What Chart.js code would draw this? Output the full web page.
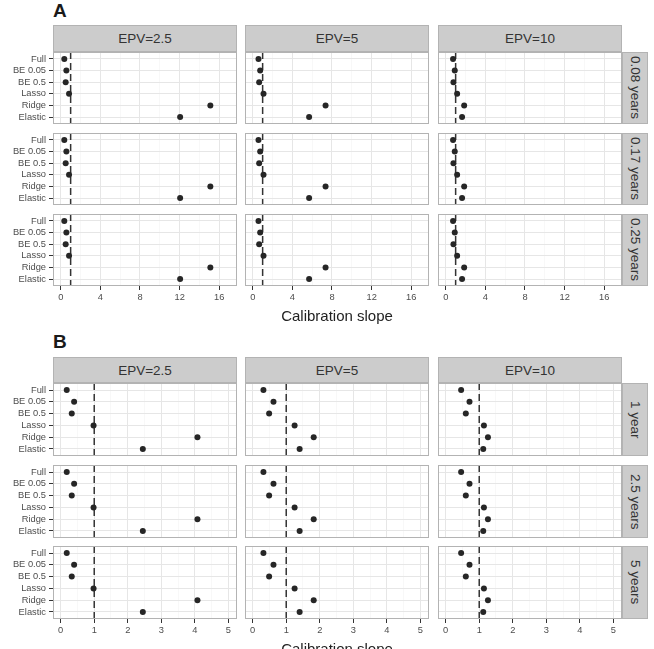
<!DOCTYPE html>
<html>
<head>
<meta charset="utf-8">
<script src="https://cdn.jsdelivr.net/npm/chart.js@4.4.1/dist/chart.umd.min.js"></script>
<style>
  body { margin: 0; background: #fff; overflow: hidden; font-family: "Liberation Sans", Arial, sans-serif; }
  #page { position: relative; width: 654px; height: 649px; overflow: hidden; }
  canvas { position: absolute; }
  .strip { position: absolute; box-sizing: border-box; background: #cccccc; border: 1px solid #b3b3b3;
           color: #333; font-size: 13.5px; display: flex; align-items: center; justify-content: center; }
  .side { writing-mode: vertical-rl; }
  .tag { position: absolute; font-weight: bold; font-size: 19px; line-height: 19px; color: #1a1a1a; }
</style>
</head>
<body>
<div id="page"></div>
<script>
// categories
const methods = ['Full', 'BE 0.05', 'BE 0.5', 'Lasso', 'Ridge', 'Elastic'];
const epvLabels = ['EPV=2.5', 'EPV=5', 'EPV=10'];
const horizonsA = ['0.08 years', '0.17 years', '0.25 years'];
const horizonsB = ['1 year', '2.5 years', '5 years'];

// calibration slopes (same in every horizon row)
const slopeA_epv25 = [0.36, 0.57, 0.50, 0.84, 15.1, 12.05];
const slopeA_epv5 = [0.58, 0.75, 0.65, 1.09, 7.35, 5.69];
const slopeA_epv10 = [0.74, 0.91, 0.78, 1.15, 1.86, 1.65];
const slopeB_epv25 = [0.18, 0.40, 0.33, 0.98, 4.08, 2.45];
const slopeB_epv5 = [0.32, 0.62, 0.49, 1.25, 1.82, 1.40];
const slopeB_epv10 = [0.46, 0.71, 0.60, 1.14, 1.26, 1.12];
const refSlope = 1;

// x axis ticks (minor + major) and labelled ones
const ticksA = [0, 2, 4, 6, 8, 10, 12, 14, 16];
const majorA = [0, 4, 8, 12, 16];
const ticksB = [0, 0.5, 1, 1.5, 2, 2.5, 3, 3.5, 4, 4.5, 5];
const majorB = [0, 1, 2, 3, 4, 5];

Chart.defaults.font.family = '"Liberation Sans", Arial, sans-serif';
Chart.defaults.animation = false;

const page = document.getElementById('page');
const colLeft = [53, 245, 438];
const panelW = 184;
const yMin = -0.6, yMax = 5.6;

const panelBorder = {
    id: 'panelBorder',
    afterDraw(chart) {
        const a = chart.chartArea;
        const ctx = chart.ctx;
        ctx.save();
        ctx.strokeStyle = '#b3b3b3';
        ctx.lineWidth = 1;
        ctx.strokeRect(a.left + 0.5, a.top + 0.5, a.right - a.left - 1, a.bottom - a.top - 1);
        ctx.restore();
    }
};

function addDiv(cls, text, x, y, w, h) {
    let d = document.createElement('div');
    d.className = cls;
    d.textContent = text;
    d.style.left = x + 'px';
    d.style.top = y + 'px';
    if (w) d.style.width = w + 'px';
    if (h) d.style.height = h + 'px';
    page.appendChild(d);
    return d;
}

function noPad(s) {
    s.paddingTop = 0;
    s.paddingBottom = 0;
    s.paddingLeft = 0;
    s.paddingRight = 0;
}

function makeFacet(cfg, row, col, values) {
    const bottomRow = row === 2;
    const firstCol = col === 0;
    const top = cfg.rowTops[row];
    const left = firstCol ? 0 : colLeft[col];
    const width = colLeft[col] + panelW - left;
    const extra = bottomRow ? 40 : 0;
    const height = cfg.rowH + extra;

    let canvas = document.createElement('canvas');
    canvas.width = width;
    canvas.height = height;
    canvas.style.left = left + 'px';
    canvas.style.top = top + 'px';
    canvas.style.width = width + 'px';
    canvas.style.height = height + 'px';
    page.appendChild(canvas);

    new Chart(canvas, {
        type: 'scatter',
        data: {
            datasets: [{
                data: values.map((v, i) => ({ x: v, y: i })),
                pointRadius: 3,
                pointHoverRadius: 3,
                backgroundColor: '#262626',
                borderWidth: 0
            }, {
                data: [{ x: refSlope, y: yMin }, { x: refSlope, y: yMax }],
                showLine: true,
                pointRadius: 0,
                borderColor: '#333333',
                borderWidth: 1.5,
                borderDash: [7, 4]
            }]
        },
        options: {
            responsive: false,
            devicePixelRatio: 1,
            layout: { padding: 0, autoPadding: false },
            plugins: { legend: { display: false }, tooltip: { enabled: false } },
            scales: {
                x: {
                    type: 'linear',
                    min: cfg.xMin,
                    max: cfg.xMax,
                    afterBuildTicks: s => { s.ticks = cfg.ticks.map(v => ({ value: v })); },
                    afterFit: s => { s.height = extra; noPad(s); },
                    border: { display: false },
                    grid: {
                        color: c => cfg.major.includes(c.tick.value) ? '#e6e6e6' : '#f3f3f3',
                        lineWidth: c => cfg.major.includes(c.tick.value) ? 1 : 0.6,
                        drawTicks: bottomRow,
                        tickLength: 4,
                        tickWidth: 1,
                        tickColor: c => cfg.major.includes(c.tick.value) ? '#333333' : 'rgba(0,0,0,0)'
                    },
                    ticks: {
                        display: bottomRow,
                        autoSkip: false,
                        maxRotation: 0,
                        padding: 2,
                        color: '#4d4d4d',
                        font: { size: 9.3 },
                        callback: v => cfg.major.includes(v) ? String(v) : ''
                    },
                    title: {
                        display: bottomRow && col === 1,
                        text: 'Calibration slope',
                        color: '#222',
                        font: { size: 15 },
                        padding: { top: 1, bottom: 0 }
                    }
                },
                y: {
                    type: 'linear',
                    reverse: true,
                    min: yMin,
                    max: yMax,
                    afterBuildTicks: s => { s.ticks = methods.map((m, i) => ({ value: i })); },
                    afterFit: s => { s.width = firstCol ? colLeft[0] : 0; noPad(s); },
                    border: { display: false },
                    grid: {
                        color: '#e6e6e6',
                        drawTicks: firstCol,
                        tickLength: 4,
                        tickColor: '#333333'
                    },
                    ticks: {
                        display: firstCol,
                        autoSkip: false,
                        padding: 3,
                        color: '#4d4d4d',
                        font: { size: 9.3 },
                        callback: v => methods[v]
                    }
                }
            }
        },
        plugins: [panelBorder]
    });
}

function makePanel(cfg) {
    addDiv('tag', cfg.tag, 53, cfg.tagTop);
    epvLabels.forEach((lab, c) => addDiv('strip', lab, colLeft[c], cfg.stripTop, panelW, cfg.stripH));
    cfg.horizons.forEach((h, r) => {
        addDiv('strip side', h, colLeft[2] + panelW, cfg.rowTops[r], 26, cfg.rowH);
        cfg.series.forEach((vals, c) => makeFacet(cfg, r, c, vals));
    });
}

makePanel({
    tag: 'A', tagTop: 1,
    stripTop: 25, stripH: 27,
    rowTops: [52, 133, 214], rowH: 72,
    horizons: horizonsA,
    series: [slopeA_epv25, slopeA_epv5, slopeA_epv10],
    xMin: -0.78, xMax: 17.79,
    ticks: ticksA, major: majorA
});

makePanel({
    tag: 'B', tagTop: 332,
    stripTop: 357, stripH: 26,
    rowTops: [383, 465, 546], rowH: 73,
    horizons: horizonsB,
    series: [slopeB_epv25, slopeB_epv5, slopeB_epv10],
    xMin: -0.23, xMax: 5.26,
    ticks: ticksB, major: majorB
});
</script>
</body>
</html>
